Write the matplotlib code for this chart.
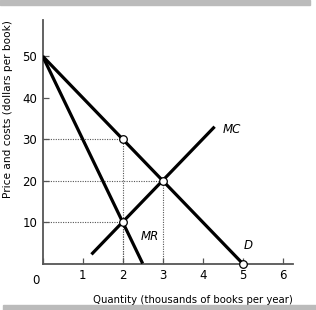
import numpy as np
import matplotlib
matplotlib.use("Agg")
import matplotlib.pyplot as plt
from matplotlib.patches import Rectangle

# Demand, marginal revenue, marginal cost (thousands of books, dollars)
demand_q = [0, 5]
demand_p = [50, 0]
mr_q = [0, 2.5]
mr_p = [50, 0]
mc_q = [1.22, 4.3]
mc_p = [2.2, 33]

# points marked with open circles
pts_q = [2, 3, 2, 5]
pts_p = [30, 20, 10, 0]

# dotted guides: (q, p) corner points
guide_q = [2, 3, 2]
guide_p = [30, 20, 10]

xticks = [0, 1, 2, 3, 4, 5, 6]
yticks = [10, 20, 30, 40, 50]

fig = plt.figure(figsize=(3.16, 3.10), dpi=100)
ax = fig.add_axes([0.135, 0.15, 0.791, 0.785])

axis_col = '#555555'
lw = 2.3

ax.plot(demand_q, demand_p, color='black', lw=lw, solid_capstyle='butt', zorder=3)
ax.plot(mr_q, mr_p, color='black', lw=lw, solid_capstyle='butt', zorder=3)
ax.plot(mc_q, mc_p, color='black', lw=lw, solid_capstyle='butt', zorder=3)

for q, p in zip(guide_q, guide_p):
    ax.plot([0, q], [p, p], color='#555555', lw=0.8, ls=(0, (1, 1.2)), zorder=2)
    ax.plot([q, q], [0, p], color='#555555', lw=0.8, ls=(0, (1, 1.2)), zorder=2)

ax.scatter(pts_q, pts_p, s=30, facecolor='white', edgecolor='black', lw=0.9, zorder=4, clip_on=False)

ax.text(4.5, 32.4, 'MC', style='italic', fontsize=8.5, ha='left', va='center')
ax.text(2.45, 6.5, 'MR', style='italic', fontsize=8.5, ha='left', va='center')
ax.text(5.02, 4.3, 'D', style='italic', fontsize=8.5, ha='left', va='center')

ax.set_xlim(0, 6.25)
ax.set_ylim(0, 58.7)
ax.set_xticks(xticks)
ax.set_yticks(yticks)
ax.tick_params(direction='in', length=4, width=0.9, color=axis_col, labelsize=8.5, pad=4)
ax.get_xticklabels()[0].set_visible(False)
ax.text(-0.16, -2.6, '0', fontsize=8.5, ha='center', va='top')

for s in ['top', 'right']:
    ax.spines[s].set_visible(False)
for s in ['left', 'bottom']:
    ax.spines[s].set_color(axis_col)
    ax.spines[s].set_linewidth(1.3)

ax.set_xlabel('Quantity (thousands of books per year)', fontsize=7.3, labelpad=9, x=1.0, ha='right')
ax.set_ylabel('Price and costs (dollars per book)', fontsize=7.6, labelpad=7, y=1.0, ha='right')

# gray bars at top and bottom
fig.patches.append(Rectangle((0, 0.983), 0.98, 0.017, transform=fig.transFigure, color='#bbbbbb', zorder=0))
fig.patches.append(Rectangle((0.01, 0), 0.99, 0.015, transform=fig.transFigure, color='#bbbbbb', zorder=0))

fig.savefig('out.png', dpi=100)
